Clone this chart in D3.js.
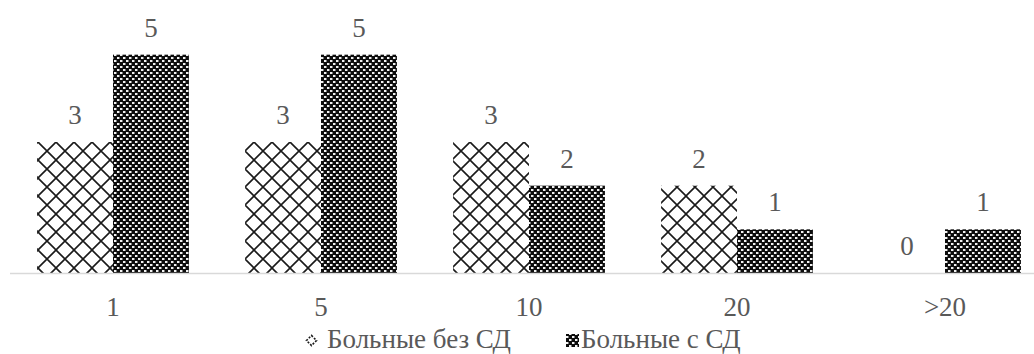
<!DOCTYPE html>
<html><head><meta charset="utf-8">
<script src="https://cdn.jsdelivr.net/npm/d3@7"></script>
<style>
html,body{margin:0;padding:0;background:#fff;}
svg{display:block;}
</style></head>
<body>
<svg id="chart" width="1034" height="354"></svg>
<script>
const categories = ["1", "5", "10", "20", ">20"];
const seriesNames = ["Больные без СД", "Больные с СД"];
const withoutDM = [3, 3, 3, 2, 0];
const withDM = [5, 5, 2, 1, 1];
const yDomain = [0, 6];

const FONT = "'Liberation Serif', 'Times New Roman', Tinos, serif";
const TXT = "#595959";
const FS = 27;
const W = 1034, H = 354;
const svg = d3.select("#chart");
const defs = svg.append("defs");

// wide crosshatch pattern
const p1 = defs.append("pattern").attr("id","hatch").attr("patternUnits","userSpaceOnUse")
  .attr("width",18).attr("height",18).attr("x",2).attr("y",-2);
p1.append("rect").attr("width",18).attr("height",18).attr("fill","#fff");
p1.append("path").attr("d","M-1,-1L19,19M19,-1L-1,19")
  .attr("stroke","#1a1a1a").attr("stroke-width",1.6);

// legend marker version of the crosshatch (small dotted diamond)
const p1l = defs.append("pattern").attr("id","hatchLeg").attr("patternUnits","objectBoundingBox")
  .attr("width",1).attr("height",1);
p1l.append("rect").attr("width",13).attr("height",13).attr("fill","#fff");
p1l.append("path").attr("d","M6.5,1.5L11.5,6.5L6.5,11.5L1.5,6.5Z").attr("fill","none")
  .attr("stroke","#1a1a1a").attr("stroke-width",1.6).attr("stroke-dasharray","2,1.5");

// dense confetti pattern
const p2 = defs.append("pattern").attr("id","dense").attr("patternUnits","userSpaceOnUse")
  .attr("width",6).attr("height",6);
p2.append("rect").attr("width",6).attr("height",6).attr("fill","#0d0d0d");
p2.append("rect").attr("x",0).attr("y",0).attr("width",2).attr("height",2).attr("fill","#f2f2f2");
p2.append("rect").attr("x",3).attr("y",3).attr("width",2).attr("height",2).attr("fill","#f2f2f2");
p2.append("rect").attr("x",2).attr("y",0).attr("width",1).attr("height",2).attr("fill","#777");
p2.append("rect").attr("x",5).attr("y",3).attr("width",1).attr("height",2).attr("fill","#777");

const fills = ["url(#hatch)", "url(#dense)"];
const legFills = ["url(#hatchLeg)", "url(#dense)"];
const series = [withoutDM, withDM];

const x = d3.scaleBand().domain(categories).range([9, 1049]).paddingInner(0.27).paddingOuter(0.135);
const xs = d3.scaleBand().domain([0,1]).range([0, x.bandwidth()]);
const y = d3.scaleLinear().domain(yDomain).range([273, 11]);

// bars
series.forEach((vals, si) => {
  const g = svg.append("g");
  g.selectAll("rect").data(vals).join("rect")
    .attr("x", (d,i) => x(categories[i]) + xs(si))
    .attr("y", d => y(d))
    .attr("width", xs.bandwidth())
    .attr("height", d => y(0) - y(d))
    .attr("fill", fills[si]);
  g.selectAll("text").data(vals).join("text")
    .attr("x", (d,i) => x(categories[i]) + xs(si) + xs.bandwidth()/2)
    .attr("y", d => y(d) - 18)
    .attr("text-anchor","middle")
    .attr("font-family", FONT).attr("fill", TXT)
    .attr("font-size", FS)
    .text(d => d);
});

// axis line
svg.append("line").attr("x1",10).attr("x2",W).attr("y1",y(0)+0.5).attr("y2",y(0)+0.5)
  .attr("stroke","#d9d9d9").attr("stroke-width",1.3);

// x axis labels
const xAxis = d3.axisBottom(x).tickSize(0).tickPadding(0);
const ax = svg.append("g").attr("transform",`translate(0,${y(0)})`).call(xAxis)
  .attr("font-family", FONT).attr("font-size", FS);
ax.select(".domain").remove();
ax.selectAll("text").attr("dy",0).attr("y",43).attr("fill",TXT);

// legend
const legX = [305, 566];
const items = svg.append("g").selectAll("g").data(seriesNames).join("g")
  .attr("transform",(d,i)=>`translate(${legX[i]},348)`);
items.append("rect").attr("width",13).attr("height",13).attr("y",-14)
  .attr("fill",(d,i)=>legFills[i]);
items.append("text").attr("x",(d,i)=> i===0 ? 22 : 15).attr("y",0).attr("font-size",FS)
  .attr("font-family", FONT).attr("fill", TXT).text(d=>d);
</script>
</body></html>
